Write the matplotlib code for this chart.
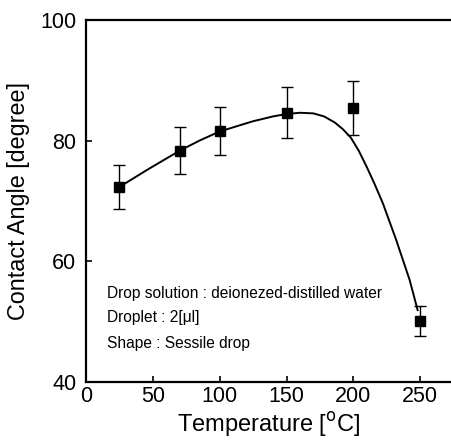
import matplotlib

matplotlib.use("Agg")
import matplotlib.pyplot as plt

# measured contact angle vs. annealing temperature
temp = [25, 70, 100, 150, 200, 250]
angle = [72.3, 78.3, 81.6, 84.6, 85.4, 50.1]
err = [3.7, 3.9, 4.0, 4.2, 4.5, 2.5]

# hand-drawn guide curve
curve_t = [25, 47, 70, 85, 100, 125, 140, 150, 160, 170, 178, 186, 192,
           198, 204, 210, 216, 222, 232, 242, 248]
curve_a = [72.3, 75.3, 78.3, 80.0, 81.5, 83.2, 84.0, 84.4, 84.6, 84.5,
           84.0, 83.0, 81.9, 80.5, 78.3, 75.6, 72.7, 69.6, 63.5, 56.9, 51.9]

notes = ["Drop solution : deionezed-distilled water",
         "Droplet : 2[\u03bcl]",
         "Shape : Sessile drop"]

plt.rcParams.update({"font.family": ["Liberation Sans", "DejaVu Sans"]})
fig = plt.figure(figsize=(4.52, 4.41), dpi=100)
ax = fig.add_axes([0.190, 0.134, 0.808, 0.821])

ax.plot(curve_t, curve_a, color="black", lw=1.4, zorder=2)
ax.errorbar(temp, angle, yerr=err, fmt="s", color="black", ms=7.5,
            ecolor="black", elinewidth=1.0, capsize=4.5, capthick=1.0, zorder=3)

for s, y in zip(notes, [54.7, 50.7, 46.4]):
    ax.text(15.5, y, s, fontsize=11.2, va="center", ha="left")

ax.set_xlim(0, 273)
ax.set_ylim(40, 100)
ax.set_xticks([0, 50, 100, 150, 200, 250])
ax.set_yticks([40, 60, 80, 100])
ax.tick_params(direction="in", length=4, width=1.2, labelsize=15.5)
ax.tick_params(axis="y", pad=7)
ax.tick_params(axis="x", pad=3)
ax.spines["right"].set_visible(False)
for s in ("left", "bottom", "top"):
    ax.spines[s].set_linewidth(1.6)

ax.set_xlabel("Temperature [$^{\\rm o}$C]", fontsize=17, labelpad=2)
ax.set_ylabel("Contact Angle [degree]", fontsize=16.8, labelpad=7)

fig.savefig("out.png", dpi=100)
